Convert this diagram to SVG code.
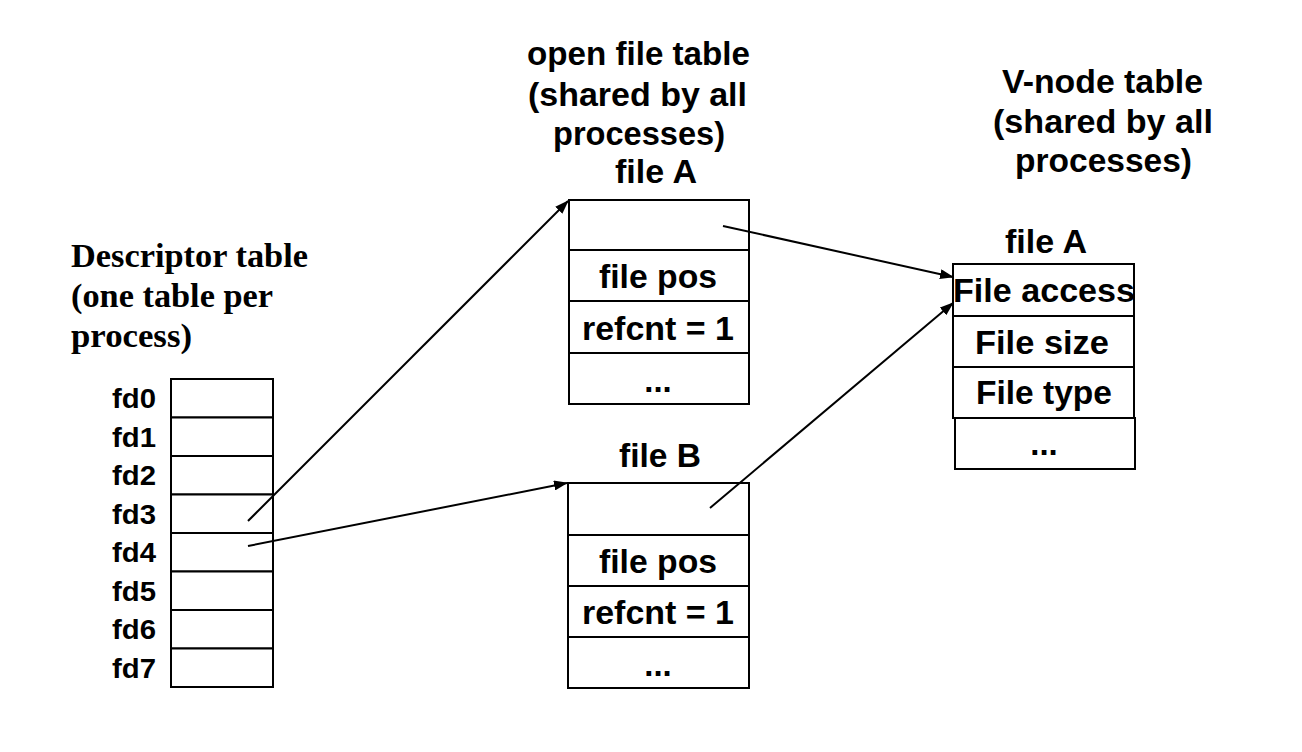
<svg xmlns="http://www.w3.org/2000/svg" width="1302" height="752" viewBox="0 0 1302 752">
<style>
.box{fill:#fff;stroke:#000;stroke-width:2}
.sans{font-family:"Liberation Sans",Arial,sans-serif;font-weight:bold;fill:#000}
.serif{font-family:"Liberation Serif","Times New Roman",serif;font-weight:bold;fill:#000}
.t30{font-size:33px}
.t31{font-size:33px}
.fd{font-size:27px;text-anchor:end}
.mid{text-anchor:middle}
.conn{stroke:#000;stroke-width:2;fill:none;marker-end:url(#ah)}
</style>
<defs>
<marker id="ah" markerUnits="userSpaceOnUse" markerWidth="14" markerHeight="10" refX="13" refY="5" orient="auto">
<path d="M0,0 L14,5 L0,10 z" fill="#000"/>
</marker>
</defs>
<rect width="1302" height="752" fill="#fff"/>

<g id="descriptor-table">
<text class="serif t31" x="71" y="267" textLength="237" lengthAdjust="spacingAndGlyphs">Descriptor table</text>
<text class="serif t31" x="71" y="307" textLength="202" lengthAdjust="spacingAndGlyphs">(one table per</text>
<text class="serif t31" x="71" y="347" textLength="121" lengthAdjust="spacingAndGlyphs">process)</text>
<rect class="box" x="171" y="379" width="102" height="38.5"/>
<rect class="box" x="171" y="417.5" width="102" height="38.5"/>
<rect class="box" x="171" y="456" width="102" height="38.5"/>
<rect class="box" x="171" y="494.5" width="102" height="38.5"/>
<rect class="box" x="171" y="533" width="102" height="38.5"/>
<rect class="box" x="171" y="571.5" width="102" height="38.5"/>
<rect class="box" x="171" y="610" width="102" height="38.5"/>
<rect class="box" x="171" y="648.5" width="102" height="38.5"/>
<text class="sans fd" x="156" y="408" textLength="44" lengthAdjust="spacingAndGlyphs">fd0</text>
<text class="sans fd" x="156" y="446.5" textLength="44" lengthAdjust="spacingAndGlyphs">fd1</text>
<text class="sans fd" x="156" y="485" textLength="44" lengthAdjust="spacingAndGlyphs">fd2</text>
<text class="sans fd" x="156" y="523.5" textLength="44" lengthAdjust="spacingAndGlyphs">fd3</text>
<text class="sans fd" x="156" y="562" textLength="44" lengthAdjust="spacingAndGlyphs">fd4</text>
<text class="sans fd" x="156" y="600.5" textLength="44" lengthAdjust="spacingAndGlyphs">fd5</text>
<text class="sans fd" x="156" y="639" textLength="44" lengthAdjust="spacingAndGlyphs">fd6</text>
<text class="sans fd" x="156" y="677.5" textLength="44" lengthAdjust="spacingAndGlyphs">fd7</text>
</g>

<g id="open-file-title">
<text class="sans t31" x="527" y="65" textLength="223" lengthAdjust="spacingAndGlyphs">open file table</text>
<text class="sans t31" x="528" y="106" textLength="219" lengthAdjust="spacingAndGlyphs">(shared by all</text>
<text class="sans t31" x="553" y="145" textLength="172" lengthAdjust="spacingAndGlyphs">processes)</text>
</g>

<g id="open-file-A">
<text class="sans t31" x="615" y="183" textLength="82" lengthAdjust="spacingAndGlyphs">file A</text>
<rect class="box" x="569" y="200" width="180" height="50"/>
<rect class="box" x="569" y="250" width="180" height="51"/>
<rect class="box" x="569" y="301" width="180" height="52"/>
<rect class="box" x="569" y="353" width="180" height="51"/>
<text class="sans t30" x="599" y="288" textLength="118" lengthAdjust="spacingAndGlyphs">file pos</text>
<text class="sans t30" x="582" y="340" textLength="152" lengthAdjust="spacingAndGlyphs">refcnt = 1</text>
<text class="sans t30 mid" x="658" y="392">...</text>
</g>

<g id="open-file-B">
<text class="sans t31" x="619" y="467" textLength="82" lengthAdjust="spacingAndGlyphs">file B</text>
<rect class="box" x="568" y="483" width="181" height="52"/>
<rect class="box" x="568" y="535" width="181" height="51"/>
<rect class="box" x="568" y="586" width="181" height="51"/>
<rect class="box" x="568" y="637" width="181" height="51"/>
<text class="sans t30" x="599" y="573" textLength="118" lengthAdjust="spacingAndGlyphs">file pos</text>
<text class="sans t30" x="582" y="624" textLength="152" lengthAdjust="spacingAndGlyphs">refcnt = 1</text>
<text class="sans t30 mid" x="658" y="676">...</text>
</g>

<g id="vnode-title">
<text class="sans t31" x="1002" y="93" textLength="201" lengthAdjust="spacingAndGlyphs">V-node table</text>
<text class="sans t31" x="993" y="133" textLength="220" lengthAdjust="spacingAndGlyphs">(shared by all</text>
<text class="sans t31" x="1015" y="172" textLength="177" lengthAdjust="spacingAndGlyphs">processes)</text>
</g>

<g id="vnode-A">
<text class="sans t31" x="1005" y="253" textLength="82" lengthAdjust="spacingAndGlyphs">file A</text>
<rect class="box" x="953" y="264" width="181" height="52"/>
<rect class="box" x="953" y="316" width="181" height="51"/>
<rect class="box" x="953" y="367" width="181" height="51"/>
<rect class="box" x="955" y="418" width="180" height="51"/>
<text class="sans t30" x="953" y="302" textLength="182" lengthAdjust="spacingAndGlyphs">File access</text>
<text class="sans t30" x="975" y="354" textLength="134" lengthAdjust="spacingAndGlyphs">File size</text>
<text class="sans t30" x="976" y="404" textLength="136" lengthAdjust="spacingAndGlyphs">File type</text>
<text class="sans t30 mid" x="1044" y="455">...</text>
</g>

<g id="connectors">
<line class="conn" x1="248" y1="521" x2="568" y2="201"/>
<line class="conn" x1="248" y1="546" x2="567" y2="483"/>
<line class="conn" x1="723" y1="226" x2="953" y2="277"/>
<line class="conn" x1="710" y1="508" x2="953" y2="303"/>
</g>
</svg>
